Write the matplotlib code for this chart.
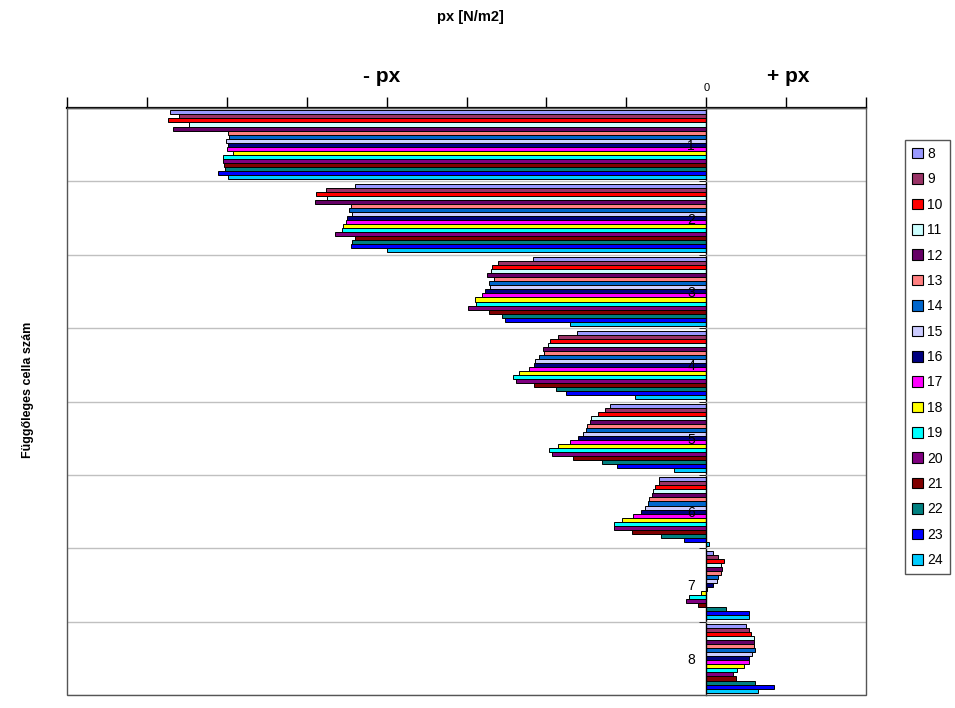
import matplotlib.pyplot as plt
import numpy as np
from matplotlib.patches import Patch, Rectangle

plt.rcParams['font.family'] = ['Liberation Sans', 'DejaVu Sans']

cells = ['1', '2', '3', '4', '5', '6', '7', '8']
series = ['8', '9', '10', '11', '12', '13', '14', '15', '16',
          '17', '18', '19', '20', '21', '22', '23', '24']
colors = ['#9999FF', '#993366', '#FF0000', '#CCFFFF', '#660066', '#FF8080',
          '#0066CC', '#CCCCFF', '#000080', '#FF00FF', '#FFFF00', '#00FFFF',
          '#800080', '#800000', '#008080', '#0000FF', '#00CCFF']

# px values, one row per series (8..24), one column per cell (1..8)
px = [
    [-6.71, -4.40, -2.17, -1.62, -1.20, -0.59, 0.09, 0.50],
    [-6.60, -4.76, -2.61, -1.86, -1.27, -0.59, 0.15, 0.53],
    [-6.73, -4.88, -2.68, -1.96, -1.36, -0.64, 0.22, 0.56],
    [-6.47, -4.74, -2.69, -1.98, -1.44, -0.67, 0.18, 0.60],
    [-6.67, -4.89, -2.74, -2.04, -1.46, -0.68, 0.20, 0.60],
    [-5.98, -4.45, -2.66, -2.03, -1.49, -0.71, 0.18, 0.60],
    [-5.97, -4.47, -2.72, -2.09, -1.51, -0.73, 0.15, 0.61],
    [-6.01, -4.43, -2.70, -2.14, -1.54, -0.76, 0.13, 0.57],
    [-5.98, -4.50, -2.77, -2.16, -1.61, -0.82, 0.08, 0.54],
    [-6.00, -4.51, -2.80, -2.22, -1.71, -0.92, 0.01, 0.53],
    [-5.92, -4.54, -2.89, -2.34, -1.86, -1.05, -0.07, 0.47],
    [-6.05, -4.56, -2.88, -2.42, -1.97, -1.16, -0.21, 0.38],
    [-6.05, -4.64, -2.98, -2.38, -1.93, -1.15, -0.25, 0.34],
    [-6.03, -4.40, -2.72, -2.15, -1.67, -0.93, -0.10, 0.37],
    [-6.02, -4.43, -2.56, -1.88, -1.31, -0.57, 0.25, 0.61],
    [-6.11, -4.45, -2.52, -1.76, -1.12, -0.28, 0.54, 0.85],
    [-5.99, -4.00, -1.70, -0.89, -0.40, 0.04, 0.54, 0.65],
]

fig = plt.figure(figsize=(9.55, 7.08), dpi=100)
ax = fig.add_axes([67/955, 1 - 695/708, (866 - 67)/955, (695 - 108)/708])

pos = np.arange(len(cells))
h = 0.055
for j, (name, col) in enumerate(zip(series, colors)):
    ax.barh(pos + (j - 8) * h, px[j], height=h, color=col,
            edgecolor='black', linewidth=0.7, zorder=2)

ax.set_xlim(-8, 2)
ax.set_ylim(7.5, -0.5)
ax.set_axisbelow(True)

# value axis on top, only zero labelled
ax.xaxis.tick_top()
ax.set_xticks(np.arange(-8, 3))
ax.set_xticklabels(['0' if t == 0 else '' for t in range(-8, 3)], fontsize=8)
ax.tick_params(axis='x', direction='out', length=8, width=1, pad=3)

# category axis crossing at zero, labels drawn over the bars
ax.spines['left'].set_position(('data', 0))
ax.spines['left'].set_linewidth(1)
ax.set_yticks(pos)
ax.set_yticklabels(cells, fontsize=10)
ax.set_yticks(np.arange(-0.5, 8), minor=True)
ax.tick_params(axis='y', which='major', length=0, pad=8)
ax.tick_params(axis='y', which='minor', length=5, direction='out')
ax.grid(which='minor', axis='y', color='#c0c0c0', linewidth=1)
ax.yaxis.set_zorder(2.5)

ax.spines['top'].set_linewidth(1.6)
ax.spines['right'].set_visible(False)
ax.spines['bottom'].set_visible(False)
ax.add_patch(Rectangle((0, 0), 1, 1, transform=ax.transAxes, fill=False,
                       edgecolor='#555555', linewidth=1, zorder=3, clip_on=False))

fig.text(470/955, 1 - 17/708, 'px [N/m2]', ha='center', va='center',
         fontsize=10.5, fontweight='bold')
fig.text(382/955, 1 - 77/708, '- px', ha='center', va='center',
         fontsize=15, fontweight='bold')
fig.text(788/955, 1 - 77/708, '+ px', ha='center', va='center',
         fontsize=15, fontweight='bold')
fig.text(28/955, 1 - 390/708, 'Függőleges cella szám', ha='center', va='center',
         rotation=90, fontsize=9, fontweight='bold')

handles = [Patch(facecolor=c, edgecolor='black', linewidth=0.8) for c in colors]
leg = fig.legend(handles, series, loc='upper left',
                 bbox_to_anchor=(905/955, 1 - 140/708), fontsize=10,
                 handlelength=0.8, handleheight=0.8, handletextpad=0.3,
                 labelspacing=0.82, borderpad=0.5, borderaxespad=0,
                 fancybox=False, framealpha=1, edgecolor='#555555')
leg.get_frame().set_linewidth(1)

fig.savefig('out.png', dpi=100)
